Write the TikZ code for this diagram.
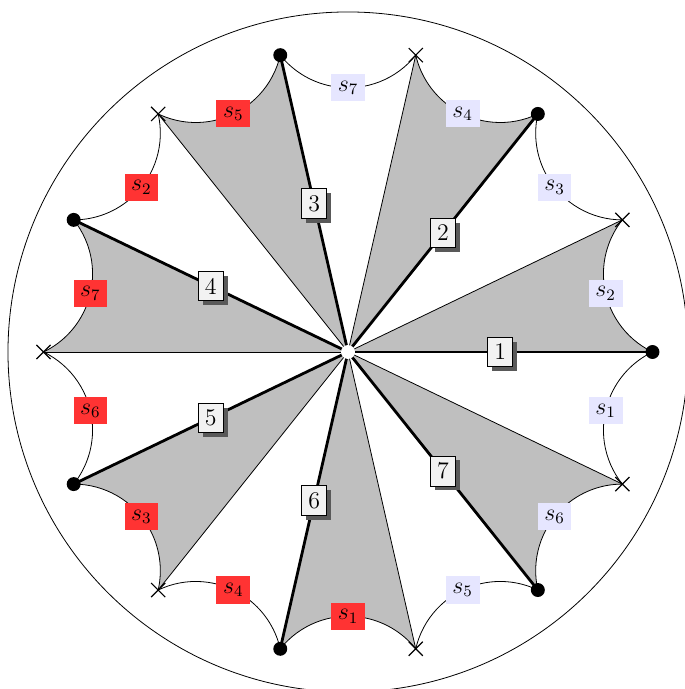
\documentclass[tikz,border=0pt]{standalone}
\usepackage{tikz}
\usetikzlibrary{shadows,shapes.misc}
\definecolor{sidered}{RGB}{255,51,51}
\definecolor{sideblue}{RGB}{230,230,255}

\begin{document}
\begin{tikzpicture}[
  every node/.style={font=\large},
  redside/.style={fill=sidered},
  blueside/.style={fill=sideblue},
  num/.style={draw, thin, fill=gray!10, drop shadow={fill=black!65, opacity=1}},
  dotv/.style={circle, fill, inner sep=0pt, minimum size=7pt},
  crossv/.style={cross out, draw, semithick, inner sep=0pt, minimum size=6.5pt},
  hub/.style={circle, fill=white, inner sep=0pt, minimum size=7pt}
]
\useasboundingbox (-6.141,-5.947) rectangle (5.929,6.211);
\coordinate (o) at (0,0);
% vertices of the regular 14-gon in the disk
\foreach \k in {0,...,13}
  \coordinate (v\k) at ({\k*360/14}:5.373);

% shaded triangles
\foreach \k in {0,2,...,12}{
  \pgfmathsetmacro\ang{\k*360/14+180/14}
  \pgfmathsetmacro\sa{\ang+231.43}
  \pgfmathsetmacro\ea{\ang+128.57}
  \fill[gray!50] (o) -- (v\k) arc[start angle=\sa, end angle=\ea, radius=1.529] -- cycle;
}

% geodesic sides
\foreach \k in {0,...,13}{
  \pgfmathsetmacro\ang{\k*360/14+180/14}
  \pgfmathsetmacro\sa{\ang+231.43}
  \pgfmathsetmacro\ea{\ang+128.57}
  \draw (v\k) arc[start angle=\sa, end angle=\ea, radius=1.529];
}

\foreach \k in {1,3,...,13}
  \draw (o) -- (v\k);
\foreach \k/\n in {0/1,2/2,4/3,6/4,8/5,10/6,12/7}
  \draw[line width=1.4pt] (o) -- (v\k) node[num, midway] (n\n) {\n};

% side labels
\foreach \k/\s/\c in {0/2/blueside, 1/3/blueside, 2/4/blueside, 3/7/blueside,
                      4/5/redside, 5/2/redside, 6/7/redside, 7/6/redside,
                      8/3/redside, 9/4/redside, 10/1/redside,
                      11/5/blueside, 12/6/blueside, 13/1/blueside}
  \node[\c] (s\k) at ({\k*360/14+180/14}:4.663) {$s_{\s}$};

\foreach \k in {0,2,...,12}
  \node[dotv] (d\k) at (v\k) {};
\foreach \k in {1,3,...,13}
  \node[crossv] (x\k) at (v\k) {};
\node[hub] (c) at (o) {};

\draw (o) circle (6);
\end{tikzpicture}
\end{document}
